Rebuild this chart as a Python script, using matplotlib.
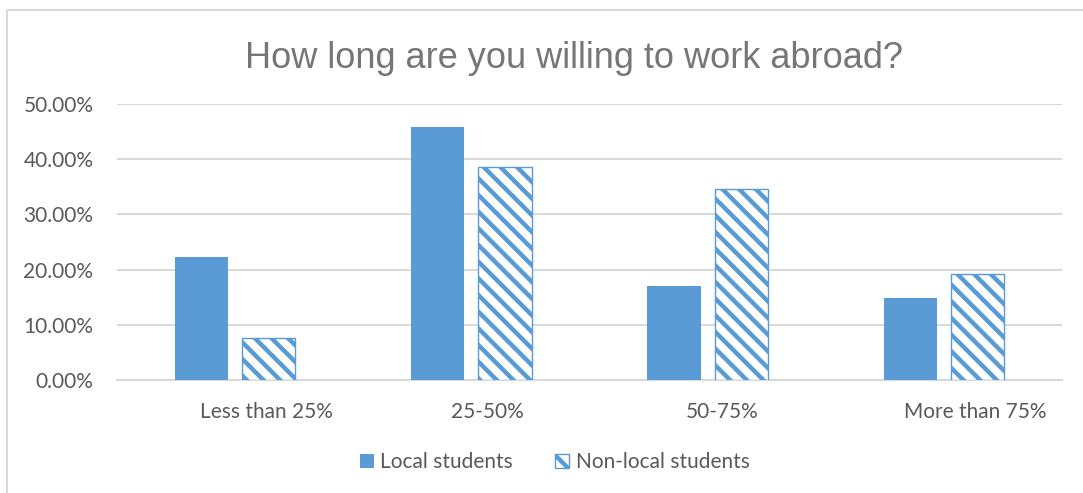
import matplotlib.pyplot as plt
import numpy as np
from matplotlib.patches import Rectangle
from matplotlib.ticker import PercentFormatter
from matplotlib.transforms import ScaledTranslation

categories = ["Less than 25%", "25-50%", "50-75%", "More than 75%"]
local = [22.3, 45.8, 17.0, 14.9]
non_local = [7.6, 38.6, 34.6, 19.2]
yticks = [0, 10, 20, 30, 40, 50]

blue = "#5B9BD5"
grey_text = "#595959"
grid_grey = "#D9D9D9"

plt.rcParams["hatch.linewidth"] = 3.2
plt.rcParams["hatch.color"] = blue

fig = plt.figure(figsize=(10.83, 4.93), dpi=100)
ax = fig.add_axes([117 / 1083, 113 / 493, 945 / 1083, 276 / 493])

x = np.arange(len(categories))
w = 0.225
gap = 0.06
ax.bar(x - (w + gap) / 2, [v / 100 for v in local], w, color=blue,
       label="Local students", zorder=3)
ax.bar(x + (w + gap) / 2, [v / 100 for v in non_local], w, color="white",
       edgecolor=blue, linewidth=1.0, hatch="\\\\", label="Non-local students",
       zorder=3)

ax.set_xlim(-0.5, len(categories) - 0.5)
ax.set_ylim(0, 0.5)
ax.set_yticks([t / 100 for t in yticks])
ax.yaxis.set_major_formatter(PercentFormatter(1.0, decimals=2))
ax.grid(axis="y", color=grid_grey, linewidth=1.5, zorder=0)
ax.set_xticks(x)
ax.set_xticklabels(categories)

for s in ["top", "right", "left"]:
    ax.spines[s].set_visible(False)
ax.spines["bottom"].set_color(grid_grey)
ax.spines["bottom"].set_linewidth(1.5)
ax.tick_params(axis="both", length=0, colors=grey_text, labelsize=15)
ax.tick_params(axis="y", pad=17)
ax.tick_params(axis="x", pad=16)
for lbl in ax.get_xticklabels() + ax.get_yticklabels():
    lbl.set_fontfamily("Lato")

# category labels sit a little right of the group centres
shifts = [31, 16, 15, 31]
for lbl, dx in zip(ax.get_xticklabels(), shifts):
    lbl.set_transform(lbl.get_transform() + ScaledTranslation(dx / 100, 0, fig.dpi_scale_trans))

fig.text(0.530, 0.882, "How long are you willing to work abroad?",
         ha="center", va="center", fontsize=26, color="#767676",
         family="Liberation Sans")

leg = fig.legend(loc="center", bbox_to_anchor=(0.512, 0.062), ncol=2,
                 frameon=False, handlelength=0.7, handleheight=0.7,
                 handletextpad=0.3, columnspacing=2.0,
                 prop={"family": "Lato", "size": 15})
for t in leg.get_texts():
    t.set_color(grey_text)

# outer chart frame
fig.patches.append(Rectangle((7 / 1083, -0.1), 1.2, (483 / 493) + 0.1,
                             transform=fig.transFigure, fill=False,
                             edgecolor=grid_grey, linewidth=1.5))

fig.savefig("out.png", dpi=100)
